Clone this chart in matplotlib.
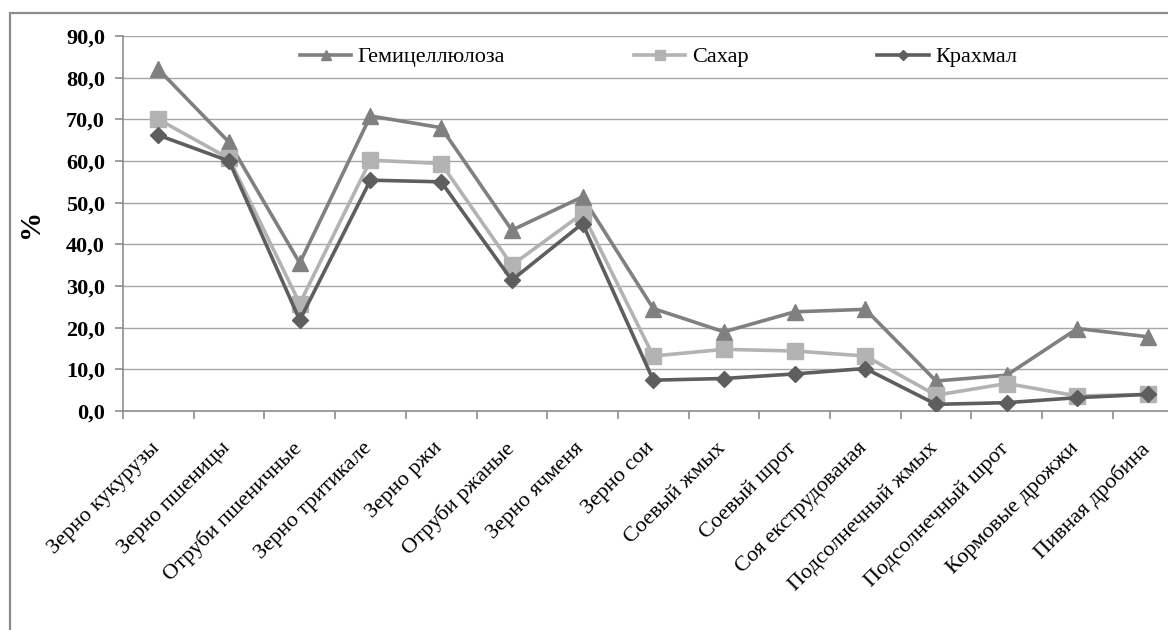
import numpy as np
import matplotlib
matplotlib.use('Agg')
import matplotlib.pyplot as plt
import matplotlib.transforms as mtransforms
from matplotlib.patches import Rectangle
from matplotlib.ticker import FuncFormatter, FixedLocator

plt.rcParams['font.family'] = ['Liberation Serif', 'DejaVu Serif']

categories = ['Зерно кукурузы', 'Зерно пшеницы', 'Отруби пшеничные', 'Зерно тритикале',
              'Зерно ржи', 'Отруби ржаные', 'Зерно ячменя', 'Зерно сои', 'Соевый жмых',
              'Соевый шрот', 'Соя екструдованая', 'Подсолнечный жмых', 'Подсолнечный шрот',
              'Кормовые дрожжи', 'Пивная дробина']
hemicellulose = [82.0, 64.5, 35.5, 70.8, 68.0, 43.4, 51.4, 24.6, 19.0, 23.8, 24.4, 7.2, 8.6, 19.8, 17.8]
sugar = [70.0, 60.6, 25.8, 60.2, 59.4, 35.0, 47.4, 13.2, 14.8, 14.4, 13.2, 3.8, 6.6, 3.6, 4.0]
starch = [66.2, 60.0, 21.8, 55.4, 55.0, 31.4, 45.0, 7.4, 7.8, 8.9, 10.2, 1.6, 2.0, 3.2, 4.0]

W, H = 1168, 630
fig = plt.figure(figsize=(W / 100, H / 100), dpi=100)

# outer chart frame (runs off the right and bottom edge)
fig.patches.append(Rectangle((10 / W, -0.1), 1.2, 1 - 13 / H + 0.1, transform=fig.transFigure,
                             fill=False, edgecolor='#8c8c8c', linewidth=1.6))

step = 70.7
ax = fig.add_axes([123 / W, 219 / H, 15 * step / W, 375 / H])
x = np.arange(len(categories))

ax.plot(x, hemicellulose, color='#808080', lw=2.6, marker='^', ms=12, label='Гемицеллюлоза', zorder=3)
ax.plot(x, sugar, color='#b3b3b3', lw=2.6, marker='s', ms=12, label='Сахар', zorder=4)
ax.plot(x, starch, color='#5e5e5e', lw=2.6, marker='D', ms=8.5, label='Крахмал', zorder=5)

ax.set_xlim(-0.5, len(categories) - 0.5)
ax.set_ylim(0, 90)
ax.set_yticks(np.arange(0, 91, 10))
ax.yaxis.set_major_formatter(FuncFormatter(lambda v, p: f'{v:.1f}'.replace('.', ',')))
ax.grid(axis='y', color='#a6a6a6', lw=1.0)
ax.set_axisbelow(True)

ax.xaxis.set_major_locator(FixedLocator(x - 0.5))
ax.xaxis.set_minor_locator(FixedLocator(x))
ax.set_xticklabels([])
ax.set_xticklabels(categories, minor=True, rotation=45, ha='right', rotation_mode='anchor', fontsize=16)
ax.tick_params(axis='x', which='minor', length=0, pad=20)
ax.tick_params(axis='x', which='major', length=6, color='#8c8c8c', width=1.2)
ax.tick_params(axis='y', length=6, color='#8c8c8c', width=1.2, labelsize=16, pad=7)
for lbl in ax.get_yticklabels():
    lbl.set_fontweight('bold')

# nudge the rotated category labels slightly to the left
shift = mtransforms.ScaledTranslation(-8 / 100, 0, fig.dpi_scale_trans)
for lbl in ax.get_xticklabels(minor=True):
    lbl.set_transform(lbl.get_transform() + shift)

for side in ['top', 'right']:
    ax.spines[side].set_visible(False)
for side in ['left', 'bottom']:
    ax.spines[side].set_color('#8c8c8c')
    ax.spines[side].set_linewidth(1.2)

ax.set_ylabel('%', fontsize=21, fontweight='bold', labelpad=16)

fig.legend(loc='center left', bbox_to_anchor=(300 / W, 1 - 57 / H), ncol=3, frameon=False,
           fontsize=16, handlelength=2.3, handletextpad=0.3, columnspacing=5.8,
           borderaxespad=0, borderpad=0, markerscale=0.65)

fig.savefig('out.png', dpi=100)
